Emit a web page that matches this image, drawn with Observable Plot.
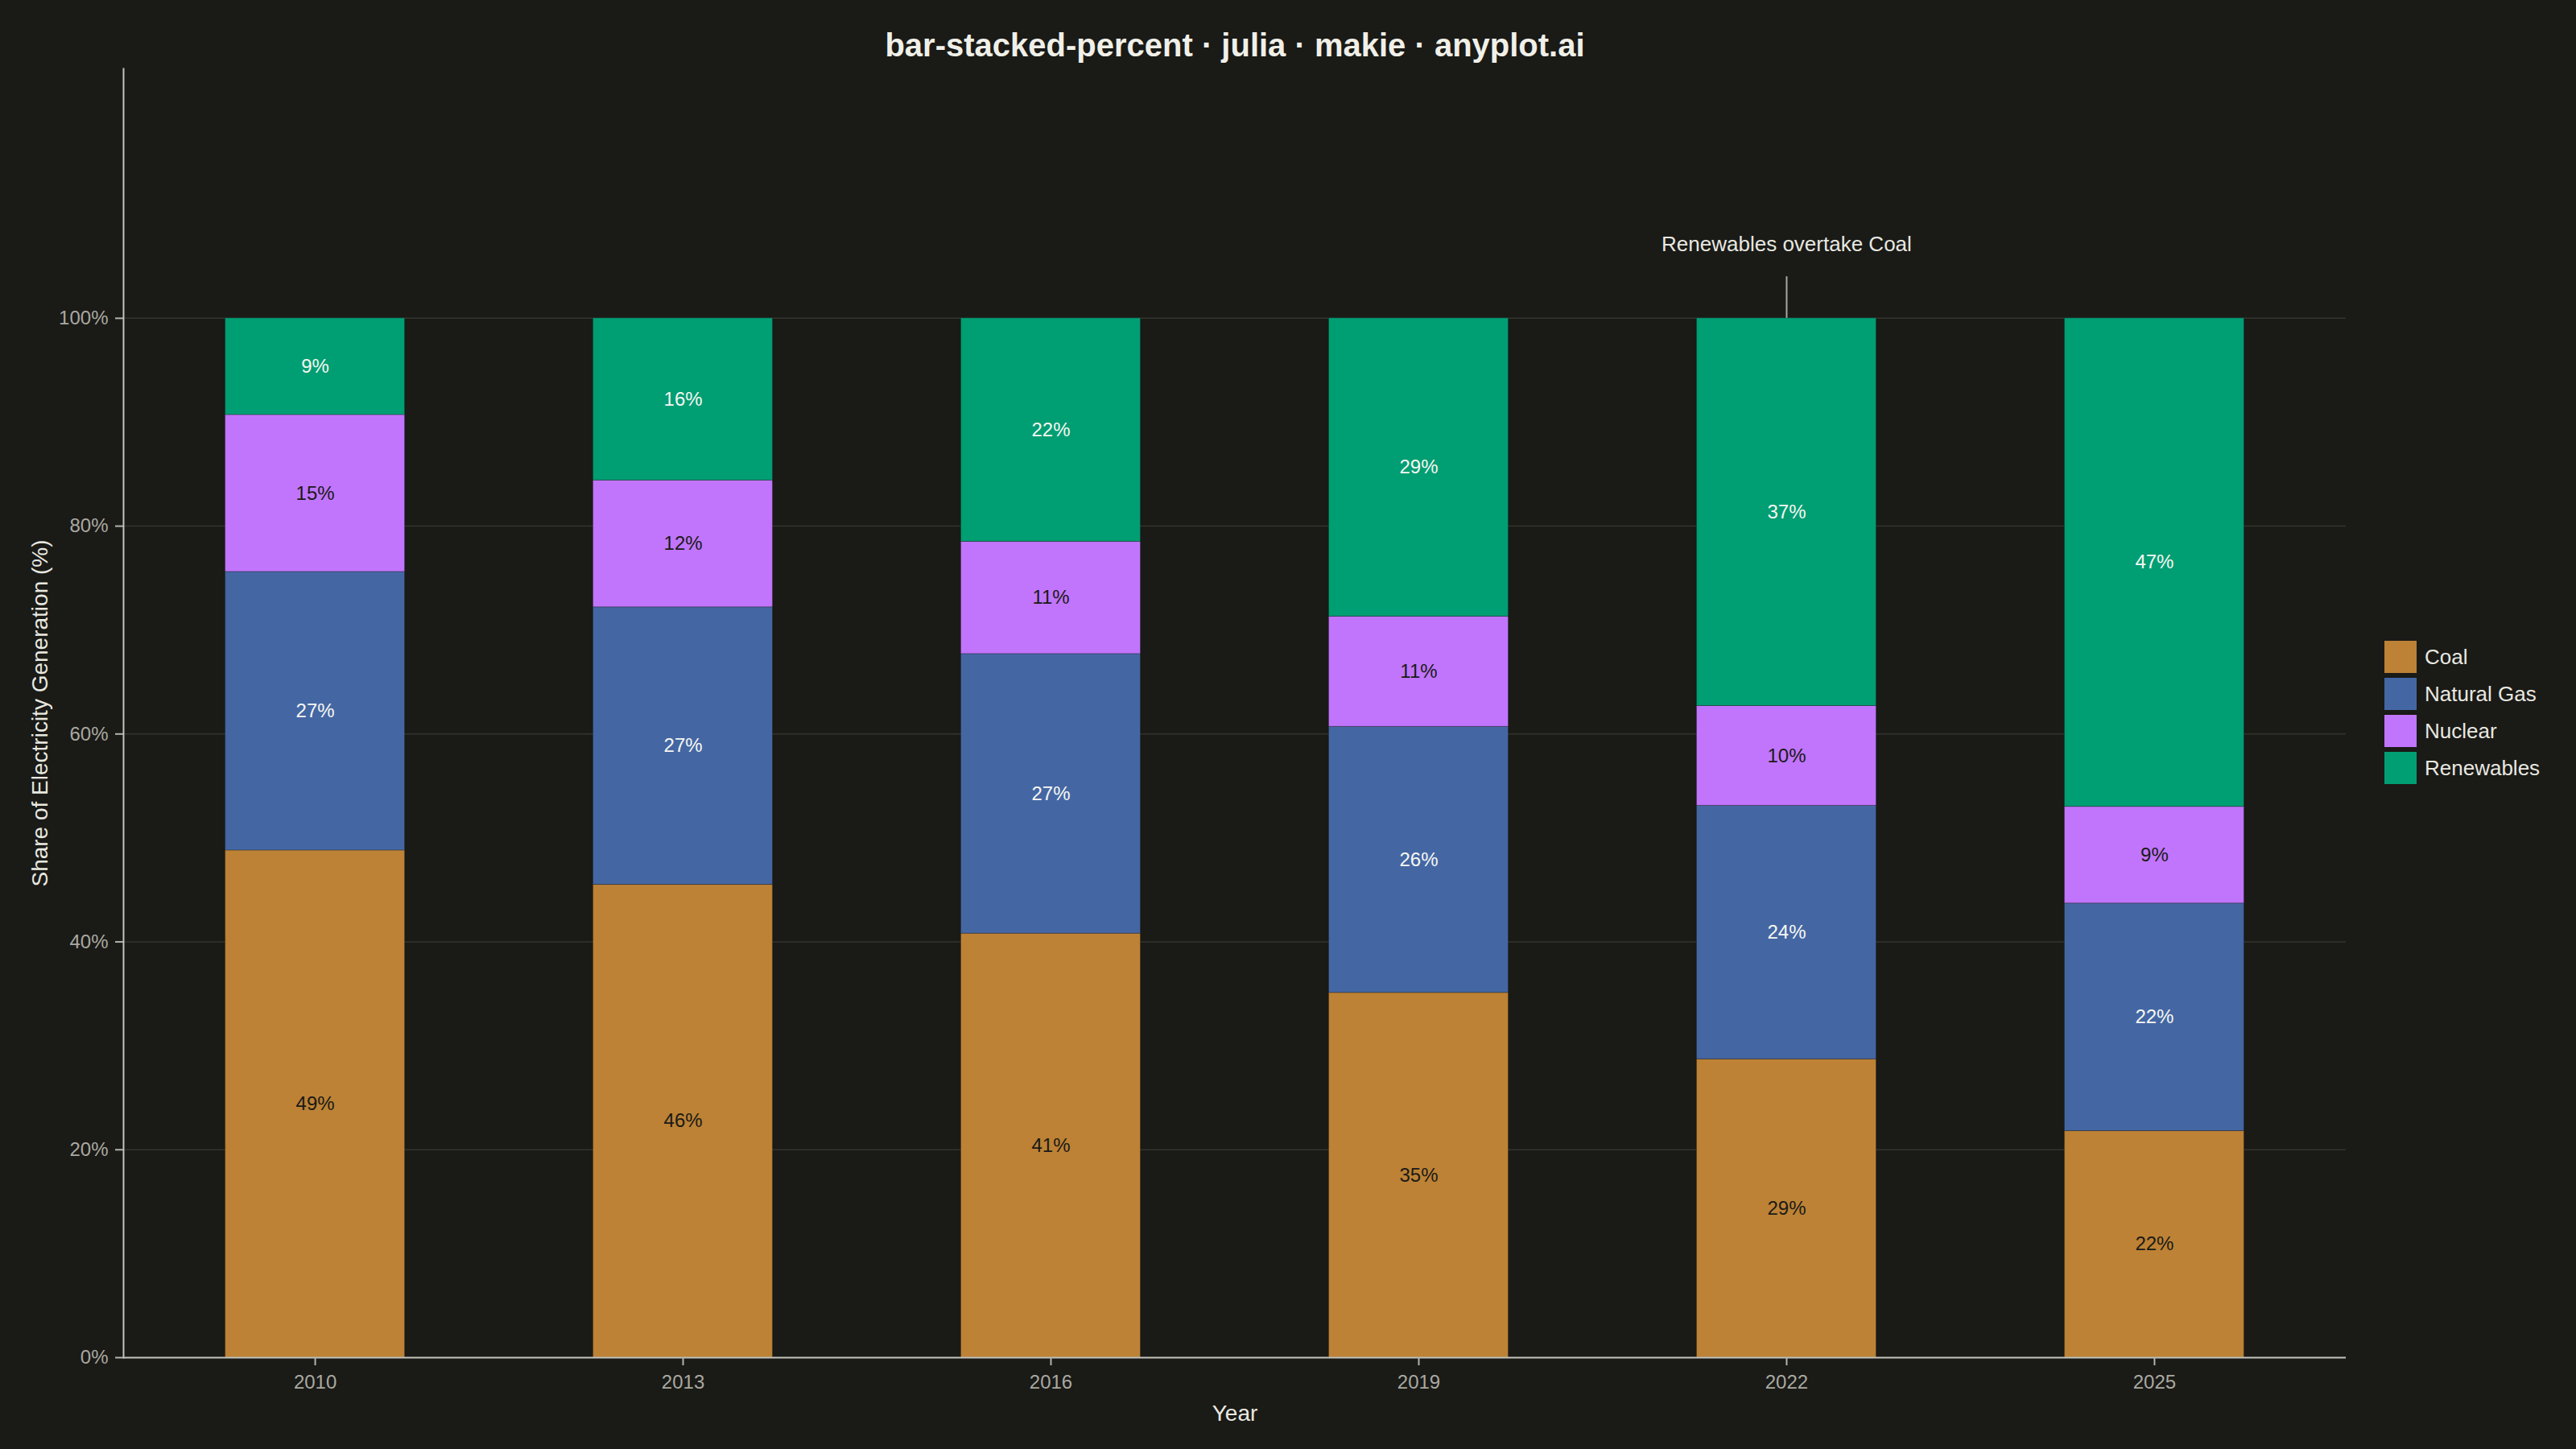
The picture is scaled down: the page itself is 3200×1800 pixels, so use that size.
<!DOCTYPE html>
<html>
<head>
<meta charset="utf-8">
<script src="https://cdn.jsdelivr.net/npm/d3@7"></script>
<script src="https://cdn.jsdelivr.net/npm/@observablehq/plot@0.6"></script>
<style>
  html, body { margin: 0; padding: 0; background: #1a1a17; }
  #wrap { position: relative; width: 3200px; height: 1800px; background: #1a1a17; overflow: hidden; }
  #legend { position: absolute; left: 2962px; top: 796px; width: 230px; }
  .lg-swatches { margin: 0 !important; }
  .lg-swatch { padding-bottom: 6px !important; }
  .lg-swatch > svg { margin-right: 10px !important; }
</style>
</head>
<body>
<div id="wrap"><div id="legend"></div></div>
<script>
const years = [2010, 2013, 2016, 2019, 2022, 2025];
const sources = ["Coal", "Natural Gas", "Nuclear", "Renewables"];
const coal = [48.8, 45.5, 40.8, 35.1, 28.7, 21.8];
const naturalGas = [26.8, 26.7, 26.9, 25.6, 24.4, 21.9];
const nuclear = [15.1, 12.2, 10.8, 10.6, 9.6, 9.3];
const renewables = [9.3, 15.6, 21.5, 28.7, 37.3, 47.0];
const colors = ["#BD8235", "#4467A4", "#C175FC", "#009E73"];
const darkLabelSources = ["Coal", "Nuclear"];
const yTicks = [0, 20, 40, 60, 80, 100];
const annotations = [{year: 2022, label: "Renewables overtake Coal", y: 107.1}];
const titleText = "bar-stacked-percent · julia · makie · anyplot.ai";
const yLabel = "Share of Electricity Generation (%)";
const xLabel = "Year";

const series = [coal, naturalGas, nuclear, renewables];
const table = years.flatMap((year, i) =>
  sources.map((source, j) => ({year, source, value: series[j][i]}))
);
const fmt = v => `${Math.round(v)}%`;
const font = "'Liberation Sans', Arial, Helvetica, sans-serif";

const plot = Plot.plot({
  width: 3200,
  height: 1800,
  marginLeft: 153,
  marginRight: 286,
  marginTop: 85,
  marginBottom: 114,
  style: {background: "#1a1a17", fontFamily: font, overflow: "visible"},
  x: {type: "band", domain: years, paddingInner: 0.512, paddingOuter: 0.277, round: false, label: null},
  y: {domain: [0, 124], label: null},
  color: {domain: sources, range: colors},
  marks: [
    Plot.gridY(yTicks, {stroke: "#34342f", strokeOpacity: 1, strokeWidth: 1.5}),
    Plot.barY(table, Plot.stackY({
      x: "year", y: "value", z: "source", fill: "source", order: sources,
      stroke: "#1a1a17", strokeOpacity: 0.3, strokeWidth: 1
    })),
    Plot.text(table, Plot.stackY({
      x: "year", y: "value", z: "source", order: sources,
      text: d => darkLabelSources.includes(d.source) ? fmt(d.value) : null,
      fill: "#1a1a17", fontSize: 24
    })),
    Plot.text(table, Plot.stackY({
      x: "year", y: "value", z: "source", order: sources,
      text: d => darkLabelSources.includes(d.source) ? null : fmt(d.value),
      fill: "#f7f7f2", fontSize: 24
    })),
    Plot.ruleY([0], {stroke: "#c4c4bc", strokeWidth: 2}),
    Plot.frame({anchor: "left", stroke: "#c4c4bc", strokeWidth: 2}),
    Plot.axisY({
      ticks: yTicks, tickFormat: d => `${d}%`, tickSize: 10, tickPadding: 9,
      fontSize: 24, color: "#a9a9a1", stroke: "#b4b4ac", strokeWidth: 2, label: null
    }),
    Plot.axisX({
      tickSize: 10, tickPadding: 11, fontSize: 24, tickFormat: d => `${d}`,
      color: "#a9a9a1", stroke: "#b4b4ac", strokeWidth: 2, label: null
    }),
    Plot.ruleX(annotations, {x: "year", y1: 100, y2: 104, stroke: "#a8a8a4", strokeWidth: 2}),
    Plot.text(annotations, {x: "year", y: "y", text: "label", fontSize: 26, fill: "#e8e8e0"}),
    Plot.text([titleText], {frameAnchor: "top", lineAnchor: "middle", textAnchor: "middle", dy: -28.8, fontSize: 40, fontWeight: "bold", fill: "#f0f0e8"}),
    Plot.text([yLabel], {frameAnchor: "left", lineAnchor: "middle", textAnchor: "middle", rotate: -90, dx: -103.5, fontSize: 28, fill: "#e8e8e0"}),
    Plot.text([xLabel], {frameAnchor: "bottom", lineAnchor: "middle", textAnchor: "middle", dy: 70, fontSize: 28, fill: "#e8e8e0"})
  ]
});
document.getElementById("wrap").prepend(plot);

const legend = Plot.legend({
  color: {domain: sources, range: colors},
  legend: "swatches",
  swatchSize: 40,
  columns: 1,
  className: "lg",
  style: {fontSize: "26px", fontFamily: font, color: "#e8e8e0", background: "transparent"}
});
document.getElementById("legend").appendChild(legend);
</script>
</body>
</html>
